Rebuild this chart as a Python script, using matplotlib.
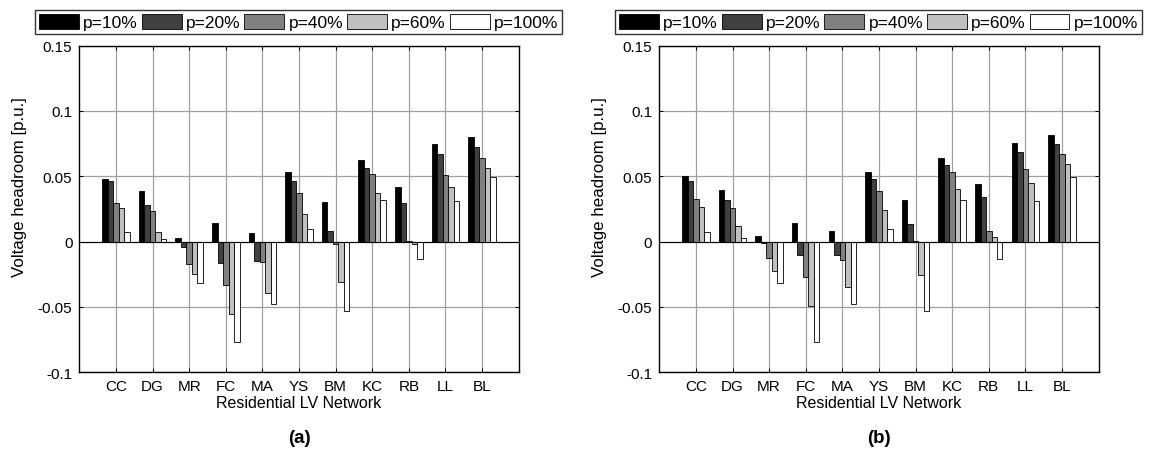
import numpy as np
import matplotlib
matplotlib.use("Agg")
import matplotlib.pyplot as plt

plt.rcParams['font.family'] = ['Liberation Sans', 'DejaVu Sans']

# networks on the x axis
networks = ["CC", "DG", "MR", "FC", "MA", "YS", "BM", "KC", "RB", "LL", "BL"]
series_labels = ["p=10%", "p=20%", "p=40%", "p=60%", "p=100%"]
bar_colors = ["#000000", "#404040", "#808080", "#c0c0c0", "#ffffff"]

# panel (a) voltage headroom, one list per p
a_p10 = [0.048, 0.0388, 0.0025, 0.014, 0.0063, 0.0536, 0.0307, 0.0622, 0.0421, 0.0744, 0.0802]
a_p20 = [0.0464, 0.0284, -0.0038, -0.016, -0.0145, 0.0467, 0.0084, 0.0561, 0.0297, 0.0668, 0.0721]
a_p40 = [0.0297, 0.0231, -0.0168, -0.0335, -0.0155, 0.0373, -0.002, 0.052, 0.0003, 0.0513, 0.064]
a_p60 = [0.0254, 0.0076, -0.0246, -0.0556, -0.0393, 0.0211, -0.0305, 0.0373, -0.0018, 0.0419, 0.0566]
a_p100 = [0.0076, 0.0023, -0.032, -0.0764, -0.0475, 0.0096, -0.0533, 0.032, -0.0132, 0.0312, 0.0492]

# panel (b)
b_p10 = [0.0503, 0.0396, 0.0046, 0.014, 0.0079, 0.0536, 0.0322, 0.0642, 0.0439, 0.0756, 0.0817]
b_p20 = [0.0467, 0.0315, -0.0008, -0.0099, -0.0099, 0.048, 0.0137, 0.0586, 0.034, 0.0688, 0.0744]
b_p40 = [0.0327, 0.0254, -0.0127, -0.0274, -0.014, 0.0386, 0.0008, 0.0533, 0.0084, 0.0553, 0.067]
b_p60 = [0.0267, 0.0119, -0.0221, -0.0495, -0.0348, 0.0239, -0.0256, 0.0406, 0.0038, 0.0447, 0.0594]
b_p100 = [0.0076, 0.0025, -0.032, -0.0764, -0.0475, 0.0096, -0.0533, 0.032, -0.0132, 0.0312, 0.0492]

yticks = [-0.1, -0.05, 0, 0.05, 0.1, 0.15]
ytick_labels = ["-0.1", "-0.05", "0", "0.05", "0.1", "0.15"]

fs = 11

fig = plt.figure(figsize=(11.5, 4.52), dpi=100)
ax_a = fig.add_axes([0.069, 0.174, 0.382, 0.723])
ax_b = fig.add_axes([0.5733, 0.174, 0.382, 0.723])


def draw_panel(ax, data, tag):
    x = np.arange(1, len(networks) + 1)
    w = 0.15
    for i, vals in enumerate(data):
        ax.bar(x + (i - 2) * w, vals, w, color=bar_colors[i], edgecolor="black",
               linewidth=0.6, label=series_labels[i], zorder=3)
    ax.axhline(0, color="black", linewidth=0.8, zorder=4)
    ax.set_xlim(0, 12)
    ax.set_ylim(-0.1, 0.15)
    ax.set_xticks(x)
    ax.set_xticklabels(networks, fontsize=fs)
    ax.set_yticks(yticks)
    ax.set_yticklabels(ytick_labels, fontsize=fs)
    ax.grid(True, color="#a0a0a0", linewidth=0.9, zorder=0)
    ax.set_axisbelow(True)
    ax.tick_params(direction="in", length=3, top=True, right=True, width=0.7, pad=5)
    for s in ax.spines.values():
        s.set_linewidth(1.0)
    ax.set_xlabel("Residential LV Network", fontsize=11.5, labelpad=1)
    ax.set_ylabel("Voltage headroom [p.u.]", fontsize=12.2)
    ax.yaxis.set_label_coords(-0.12, 0.57)
    leg = ax.legend(loc="lower left", bbox_to_anchor=(-0.1, 1.036, 1.198, 0.085),
                    mode="expand", ncol=5, fontsize=12.5, frameon=True,
                    fancybox=False, edgecolor="black", handlelength=2.3,
                    handleheight=1.0, handletextpad=0.25, columnspacing=0.5,
                    borderpad=0.2, borderaxespad=0)
    leg.get_frame().set_linewidth(1.0)
    for h in leg.legend_handles:
        h.set_linewidth(0.6)
    pos = ax.get_position()
    fig.text(pos.x0 + pos.width / 2, 0.03, tag, ha="center", va="center",
             fontsize=13.5, fontweight="bold")


draw_panel(ax_a, [a_p10, a_p20, a_p40, a_p60, a_p100], "(a)")
draw_panel(ax_b, [b_p10, b_p20, b_p40, b_p60, b_p100], "(b)")

fig.savefig("out.png", dpi=100)
